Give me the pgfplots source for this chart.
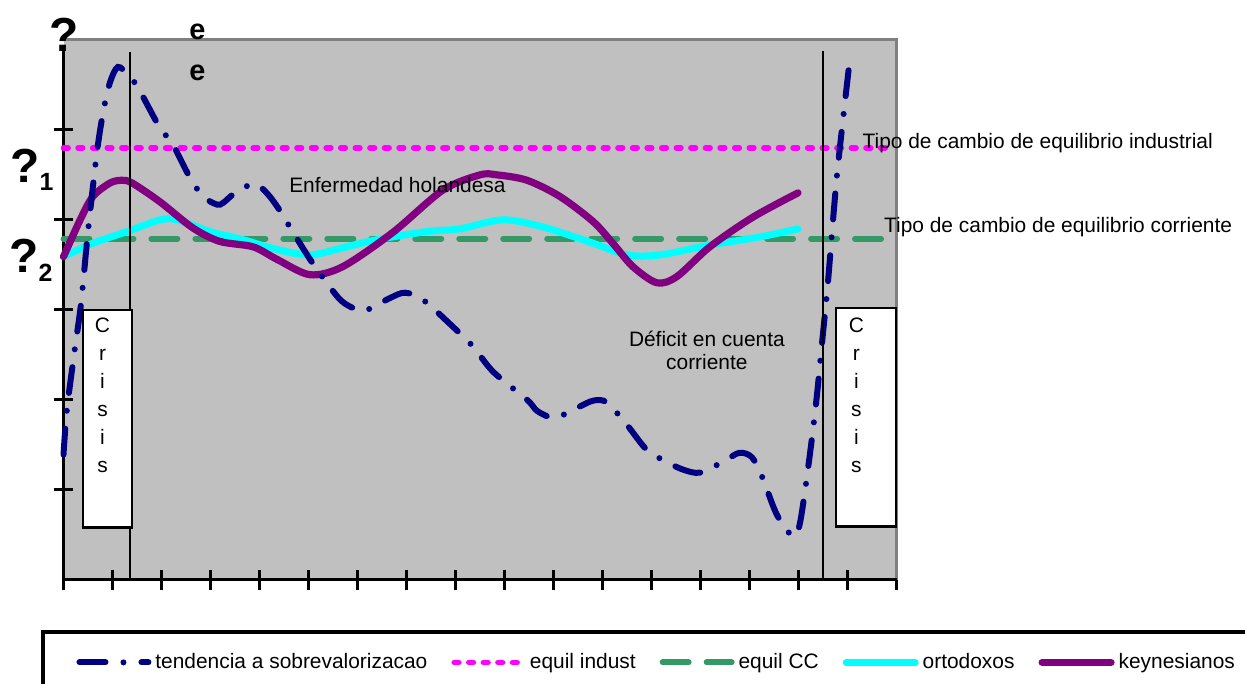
\documentclass[border=0pt]{standalone}
\usepackage{fontspec}
\setmainfont{Liberation Sans}
\usepackage{pgfplots}
\pgfplotsset{compat=1.18}

\definecolor{fondo}{HTML}{C0C0C0}
\definecolor{marco}{HTML}{808080}
\definecolor{navyc}{HTML}{000080}
\definecolor{magc}{HTML}{FF00FF}
\definecolor{greenc}{HTML}{339966}
\definecolor{cyanc}{HTML}{00FFFF}
\definecolor{purplec}{HTML}{800080}

\pgfplotsset{
  tendencia/.style={navyc, line width=3bp, line cap=round, dash pattern=on 13bp off 9bp on 0bp off 9bp, smooth},
  indust/.style={magc, line width=2.8bp, line cap=round, dash pattern=on 2.3bp off 5bp},
  equilcc/.style={greenc, line width=3bp, line cap=round, dash pattern=on 13bp off 9bp},
  orto/.style={cyanc, line width=3.5bp, line cap=round, smooth},
  keyn/.style={purplec, line width=3.6bp, line cap=round, smooth},
}

\begin{document}
\begin{tikzpicture}[font=\fontsize{10.5}{12}\selectfont]
\begin{axis}[
  scale only axis, width=416.75bp, height=270bp,
  xmin=0, xmax=17, ymin=0, ymax=6,
  axis lines*=left, axis line style={draw=none},
  axis background/.style={fill=fondo},
  xtick={0,...,17}, ytick={1,...,5},
  xticklabels={}, yticklabels={},
  tick align=center, major tick length=10bp,
  tick style={black, line width=1.5bp},
  clip=false,
  legend columns=5,
  legend cell align=left,
  legend image code/.code={\draw[#1] (0bp,0bp) -- (34.5bp,0bp);},
  legend style={draw=none, fill=none, at={(axis cs:0.257,-0.92)}, anchor=west,
    inner sep=0pt,
    font=\fontsize{10.5}{12}\selectfont,
    /tikz/every odd column/.style={column sep=0bp},
    /tikz/every even column/.style={column sep=10bp},
    /tikz/column 2/.style={column sep=3bp}},
]
% legend order
\addlegendimage{tendencia}\addlegendentry{tendencia a sobrevalorizacao}
\addlegendimage{indust}\addlegendentry{equil indust}
\addlegendimage{equilcc}\addlegendentry{equil CC}
\addlegendimage{orto}\addlegendentry{ortodoxos}
\addlegendimage{keyn}\addlegendentry{keynesianos}

% frame of the plot area and axis lines
\draw[marco, line width=1.5bp] (axis cs:0,6) -- (axis cs:17,6) -- (axis cs:17,0);
\draw[black, line width=1.75bp] (axis cs:0,0) -- (axis cs:0,5.9);
\draw[black, line width=1.75bp] (axis cs:-0.04,0) -- (axis cs:17,0);

% series
\addplot[indust, forget plot] coordinates {(0,4.8) (16.87,4.8)};
\addplot[equilcc, forget plot] coordinates {(0,3.79) (16.8,3.79)};
\addplot[orto, forget plot] coordinates {
  (0,3.59) (0.60,3.74) (1.30,3.87) (1.97,4.0) (2.32,4.0) (2.99,3.87) (3.66,3.78)
  (4.36,3.67) (5.03,3.61) (5.70,3.69) (6.40,3.78) (7.42,3.87) (8.09,3.9) (8.97,4.0)
  (9.79,3.92) (10.81,3.74) (11.50,3.61) (12.17,3.61) (13.19,3.72) (14.21,3.81) (14.99,3.9)};
\addplot[keyn, forget plot] coordinates {
  (0,3.59) (0.34,4.0) (0.60,4.26) (0.95,4.41) (1.19,4.44) (1.40,4.41) (1.97,4.2)
  (2.64,3.91) (3.19,3.76) (3.87,3.70) (4.36,3.56) (5.03,3.39) (5.70,3.48) (6.72,3.86)
  (7.74,4.33) (8.50,4.5) (8.85,4.5) (9.46,4.44) (10.13,4.26) (10.81,3.98) (11.21,3.74)
  (11.62,3.48) (12.11,3.30) (12.52,3.37) (13.19,3.7) (14.07,4.03) (14.99,4.30)};
\addplot[tendencia, forget plot] coordinates {
  (0,1.39) (0.07,1.89) (0.23,2.56) (0.36,3.08) (0.50,3.87) (0.68,4.74) (0.81,5.2)
  (0.95,5.53) (1.11,5.70) (1.32,5.61) (1.52,5.47) (1.97,5.02) (2.21,4.86) (2.58,4.47)
  (2.85,4.26) (3.13,4.17) (3.26,4.19) (3.5,4.30) (3.85,4.40) (4.01,4.37) (4.21,4.26)
  (4.42,4.10) (4.62,3.92) (5.07,3.53) (5.60,3.14) (5.87,3.03) (6.15,2.99) (6.66,3.13)
  (6.97,3.19) (7.34,3.11) (7.95,2.81) (8.36,2.59) (8.77,2.31) (9.46,2.0) (9.68,1.87)
  (10.03,1.80) (10.48,1.91) (10.81,1.99) (11.09,1.97) (11.50,1.72) (11.91,1.44)
  (12.34,1.30) (12.66,1.22) (12.99,1.19) (13.46,1.31) (13.79,1.41) (14.05,1.36)
  (14.26,1.14) (14.56,0.72) (14.89,0.48) (15.03,0.63) (15.21,1.30) (15.36,1.97)
  (15.48,2.63) (15.60,3.30) (15.70,3.97) (15.81,4.63) (16.05,5.80)};

% crisis lines and boxes
\draw[black, line width=1bp] (axis cs:1.357,0) -- (axis cs:1.357,5.87);
\draw[black, line width=1bp] (axis cs:15.5,0) -- (axis cs:15.5,5.88);
\draw[black, line width=1.2bp, fill=white] (axis cs:0.40,0.58) rectangle (axis cs:1.40,3.0);
\draw[black, line width=1.2bp, fill=white] (axis cs:15.765,0.589) rectangle (axis cs:16.99,3.022);
\node[anchor=north, inner sep=0pt, align=center, font=\fontsize{10.5}{14}\selectfont]
  at (axis cs:0.796,2.911) {C\\r\\i\\s\\i\\s};
\node[anchor=north, inner sep=0pt, align=center, font=\fontsize{10.5}{14}\selectfont]
  at (axis cs:16.18,2.911) {C\\r\\i\\s\\i\\s};

% texts
\node[anchor=base west, inner sep=0pt] at (axis cs:4.60,4.30) {Enfermedad holandesa};
\node[anchor=base, inner sep=0pt] at (axis cs:13.13,2.592) {Déficit en cuenta};
\node[anchor=base, inner sep=0pt] at (axis cs:13.13,2.333) {corriente};
\node[anchor=base west, inner sep=0pt] at (axis cs:16.30,4.789) {Tipo de cambio de equilibrio industrial};
\node[anchor=base west, inner sep=0pt] at (axis cs:16.74,3.859) {Tipo de cambio de equilibrio corriente};

\node[anchor=base west, inner sep=0pt, font=\bfseries\fontsize{24}{24}\selectfont]
  at (axis cs:-0.296,5.867) {?};
\node[anchor=base west, inner sep=0pt]
  at (axis cs:-1.092,4.411) {\bfseries\fontsize{24}{24}\selectfont ?\raisebox{-4bp}{\fontsize{12.5}{12.5}\selectfont 1}};
\node[anchor=base west, inner sep=0pt]
  at (axis cs:-1.112,3.411) {\bfseries\fontsize{24}{24}\selectfont ?\raisebox{-4.5bp}{\fontsize{12.5}{12.5}\selectfont 2}};
\node[anchor=base west, inner sep=0pt, font=\bfseries\fontsize{14.5}{14.5}\selectfont]
  at (axis cs:2.561,6.0) {e};
\node[anchor=base west, inner sep=0pt, font=\bfseries\fontsize{14.5}{14.5}\selectfont]
  at (axis cs:2.561,5.544) {e};

% legend frame (runs past the right and bottom edges)
\draw[black, line width=2bp] (axis cs:-0.418,-1.4) -- (axis cs:-0.418,-0.578) -- (axis cs:24.6,-0.578);

\coordinate (BL) at (axis cs:-1.2959,-1.1556);
\coordinate (TR) at (axis cs:24.112,6.4444);
\end{axis}
\pgfresetboundingbox
\path (BL) rectangle (TR);
\end{tikzpicture}
\end{document}
